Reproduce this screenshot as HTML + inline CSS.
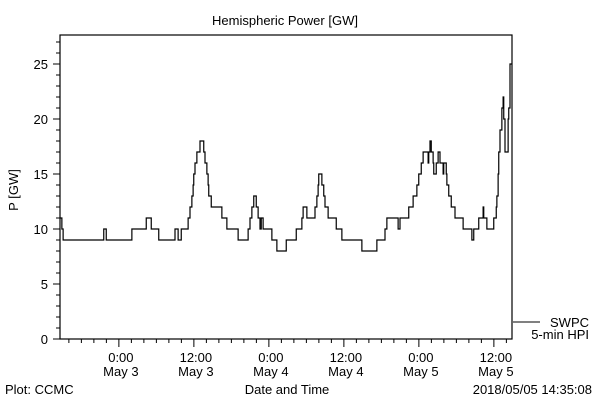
<!DOCTYPE html>
<html><head><meta charset="utf-8"><style>
body{margin:0;background:#fff}
svg{display:block;font-family:"Liberation Sans",sans-serif}
text{fill:#000;font-size:13px}
</style></head><body>
<svg id="c" width="600" height="400"></svg>
<script>
const times=[0,0.3,0.5,7.0,7.4,11.5,13.8,14.6,15.8,18.4,18.9,19.4,20.5,20.8,21.1,21.3,21.4,21.6,21.9,22.4,23.0,23.2,23.5,23.7,23.8,24.2,25.9,26.7,28.5,30.1,30.4,30.7,31.0,31.4,31.7,32.0,32.2,32.5,33.9,34.7,36.2,37.8,38.7,38.9,39.5,40.8,41.1,41.3,41.4,41.9,42.2,42.4,42.9,44.2,45.1,48.3,50.7,52.0,52.3,54.1,54.4,55.8,56.5,57.1,57.4,57.8,58.1,58.9,59.0,59.2,59.4,59.7,59.8,60.2,60.5,60.8,61.3,61.4,61.8,61.9,62.2,62.6,63.2,64.5,65.9,66.2,67.0,67.7,67.8,68.3,69.4,69.8,69.9,70.1,70.2,70.4,70.7,70.9,71.0,71.2,71.5,71.7,71.8,72.0];
const powers=[11,10,9,10,9,10,11,10,9,10,9,10,11,12,13,14,15,16,17,18,17,16,15,14,13,12,11,10,9,10,11,12,13,12,11,10,11,10,9,8,9,10,11,12,11,12,13,14,15,14,13,12,11,10,9,8,9,10,11,10,11,12,13,14,15,16,17,16,17,18,17,16,15,16,17,16,15,16,15,14,13,12,11,10,9,10,11,12,11,10,11,12,13,15,17,19,21,22,20,17,17,20,21,25];
const yTickLabels=["0","5","10","15","20","25"];
const yTickValues=[0,5,10,15,20,25];
const xTickHours=[9.42,21.42,33.42,45.42,57.42,69.42];
const xTickTimes=["0:00","12:00","0:00","12:00","0:00","12:00"];
const xTickDates=["May 3","May 3","May 4","May 4","May 5","May 5"];
const tEnd=72.32;
const X0=60,X1=512,Y0=339,Y1=35,PPU=11;
const xs=t=>X0+(t/tEnd)*(X1-X0);
const ys=v=>Y0-v*PPU;
const svg=document.getElementById('c');
const NS='http://www.w3.org/2000/svg';
function mk(tag,at,txt){const e=document.createElementNS(NS,tag);for(const k in at)e.setAttribute(k,at[k]);if(txt!==undefined)e.textContent=txt;svg.appendChild(e);return e;}
let e;
e=mk('text',{x:285,y:25,'text-anchor':'middle','font-size':'15'},'Hemispheric Power [GW]');


e=mk('rect',{x:X0,y:Y1,width:X1-X0,height:Y0-Y1,fill:'none',stroke:'#000','stroke-width':1.2});


for(let v=0;v<=27;v++){const y=ys(v);const major=v%5===0;
 e=mk('line',{x1:X0-(major?7:4),x2:X0,y1:y,y2:y,stroke:'#000'});
 
 }
yTickValues.forEach((v,i)=>{e=mk('text',{x:48,y:ys(v)+5,'text-anchor':'end'},yTickLabels[i]);
 
 });
for(let t=xTickHours[0]-8;t<=tEnd;t+=2){if(t<0)continue;const major=xTickHours.some(h=>Math.abs(h-t)<0.01);
 e=mk('line',{x1:xs(t),x2:xs(t),y1:Y0,y2:Y0+(major?8:4),stroke:'#000'});
 
 }
xTickHours.forEach((h,i)=>{
 e=mk('text',{x:xs(h)+2,y:362,'text-anchor':'middle'},xTickTimes[i]);
 
 
 e=mk('text',{x:xs(h)+2,y:376,'text-anchor':'middle'},xTickDates[i]);
 
 });
e=mk('text',{x:18,y:190,'text-anchor':'middle',transform:'rotate(-90 18 190)'},'P [GW]');


e=mk('text',{x:287,y:394,'text-anchor':'middle'},'Date and Time');


e=mk('text',{x:5,y:394},'Plot: CCMC');


e=mk('text',{x:592,y:394,'text-anchor':'end'},'2018/05/05 14:35:08');


let d='';
for(let i=0;i<times.length;i++){const x=xs(times[i]),y=ys(powers[i]);
 if(i===0)d+='M'+x+' '+y;else d+=' H'+x+' V'+y;}
d+=' H'+xs(tEnd);
e=mk('path',{d:d,fill:'none',stroke:'#000','stroke-width':1.2});


e=mk('line',{x1:513,x2:540,y1:322,y2:322,stroke:'#000'});


e=mk('text',{x:589,y:327,'text-anchor':'end'},'SWPC');


e=mk('text',{x:589,y:339,'text-anchor':'end'},'5-min HPI');


</script>
</body></html>
